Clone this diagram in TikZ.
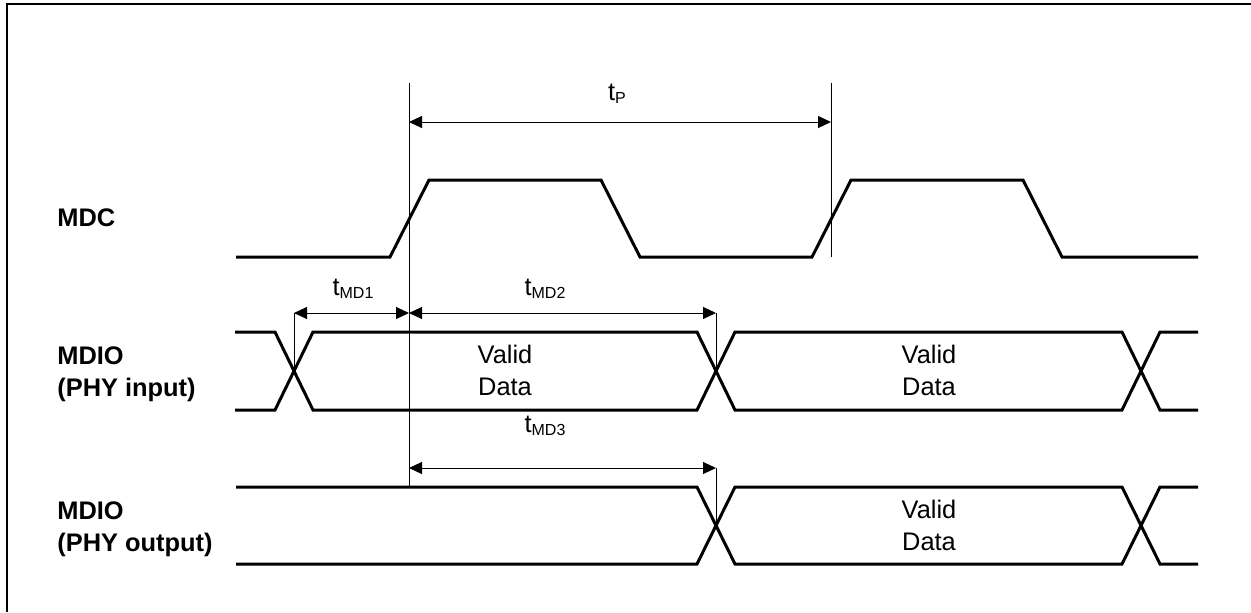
\documentclass[tikz,border=0pt]{standalone}
\usepackage{fontspec}
\setmainfont{Liberation Sans}
\usetikzlibrary{arrows.meta}
\newcommand{\tlab}[1]{t\raisebox{-0.25ex}{\fontsize{8}{8}\selectfont #1}}
\tikzset{
  sig/.style={line width=1.5pt, line join=miter},
  refline/.style={line width=0.5pt},
  dim/.style={line width=0.5pt, {Triangle[length=6.5pt,width=6pt]}-{Triangle[length=6.5pt,width=6pt]}},
  lbl/.style={font=\fontsize{12.7}{16}\selectfont\bfseries, align=left, anchor=base west, inner sep=0pt},
  txt/.style={font=\fontsize{12.7}{16}\selectfont, align=center, anchor=base, inner sep=0pt}
}
\begin{document}
\begin{tikzpicture}[x=0.5pt, y=-0.5pt]
    \useasboundingbox (0,0) rectangle (1251,612);
    \draw[line width=1pt] (7,612) -- (7,4) -- (1251,4);
    % signal names
    \node[lbl] (mdc) at (57,226) {MDC};
    \node[lbl] (mdioin) at (57,396) {MDIO\\(PHY input)};
    \node[lbl] (mdioout) at (57,551) {MDIO\\(PHY output)};
    % MDC clock
    \draw[sig] (236,257) -- (390,257) -- (429,180) -- (601,180) -- (640,257)
               -- (812,257) -- (851,180) -- (1023,180) -- (1062,257) -- (1198,257);
    % MDIO input
    \draw[sig] (235,332) -- (275,332) -- (313,410) -- (697,410) -- (735,332)
               -- (1122,332) -- (1160,410) -- (1198,410);
    \draw[sig] (235,410) -- (275,410) -- (313,332) -- (697,332) -- (735,410)
               -- (1122,410) -- (1160,332) -- (1198,332);
    % MDIO output
    \draw[sig] (236,487) -- (697,487) -- (735,564) -- (1122,564) -- (1160,487) -- (1198,487);
    \draw[sig] (236,564) -- (697,564) -- (735,487) -- (1122,487) -- (1160,564) -- (1198,564);
    \foreach \x/\y [count=\i] in {505/395, 929/395, 929/550} {
        \node[txt] (valid\i) at (\x,\y) {Valid\\Data};
    }
    % reference lines
    \coordinate (rise1) at (409,83);
    \coordinate (rise1b) at (409,487);
    \coordinate (rise2) at (831,83);
    \coordinate (rise2b) at (831,257);
    \coordinate (xin1) at (294,371);
    \coordinate (xin2) at (716,371);
    \coordinate (xout) at (716,525);
    \draw[refline] (rise1) -- (rise1b);
    \draw[refline] (rise2) -- (rise2b);
    \draw[refline] (xin1) -- +(0,-58) coordinate (md1a);
    \draw[refline] (xin2) -- +(0,-58) coordinate (md2b);
    \draw[refline] (xout) -- +(0,-57) coordinate (md3b);
    \coordinate (md1b) at (409,313);
    \coordinate (md3a) at (409,468);
    \coordinate (tpa) at (409,122);
    \coordinate (tpb) at (831,122);
    % timing arrows
    \draw[dim] (tpa) -- (tpb);
    \draw[dim] (md1a) -- (md1b);
    \draw[dim] (md1b) -- (md2b);
    \draw[dim] (md3a) -- (md3b);
    \node[txt] (tp) at (617,100) {\tlab{P}};
    \node[txt] (tmd1) at (353,295) {\tlab{MD1}};
    \node[txt] (tmd2) at (545,295) {\tlab{MD2}};
    \node[txt] (tmd3) at (545,432) {\tlab{MD3}};
\end{tikzpicture}
\end{document}
